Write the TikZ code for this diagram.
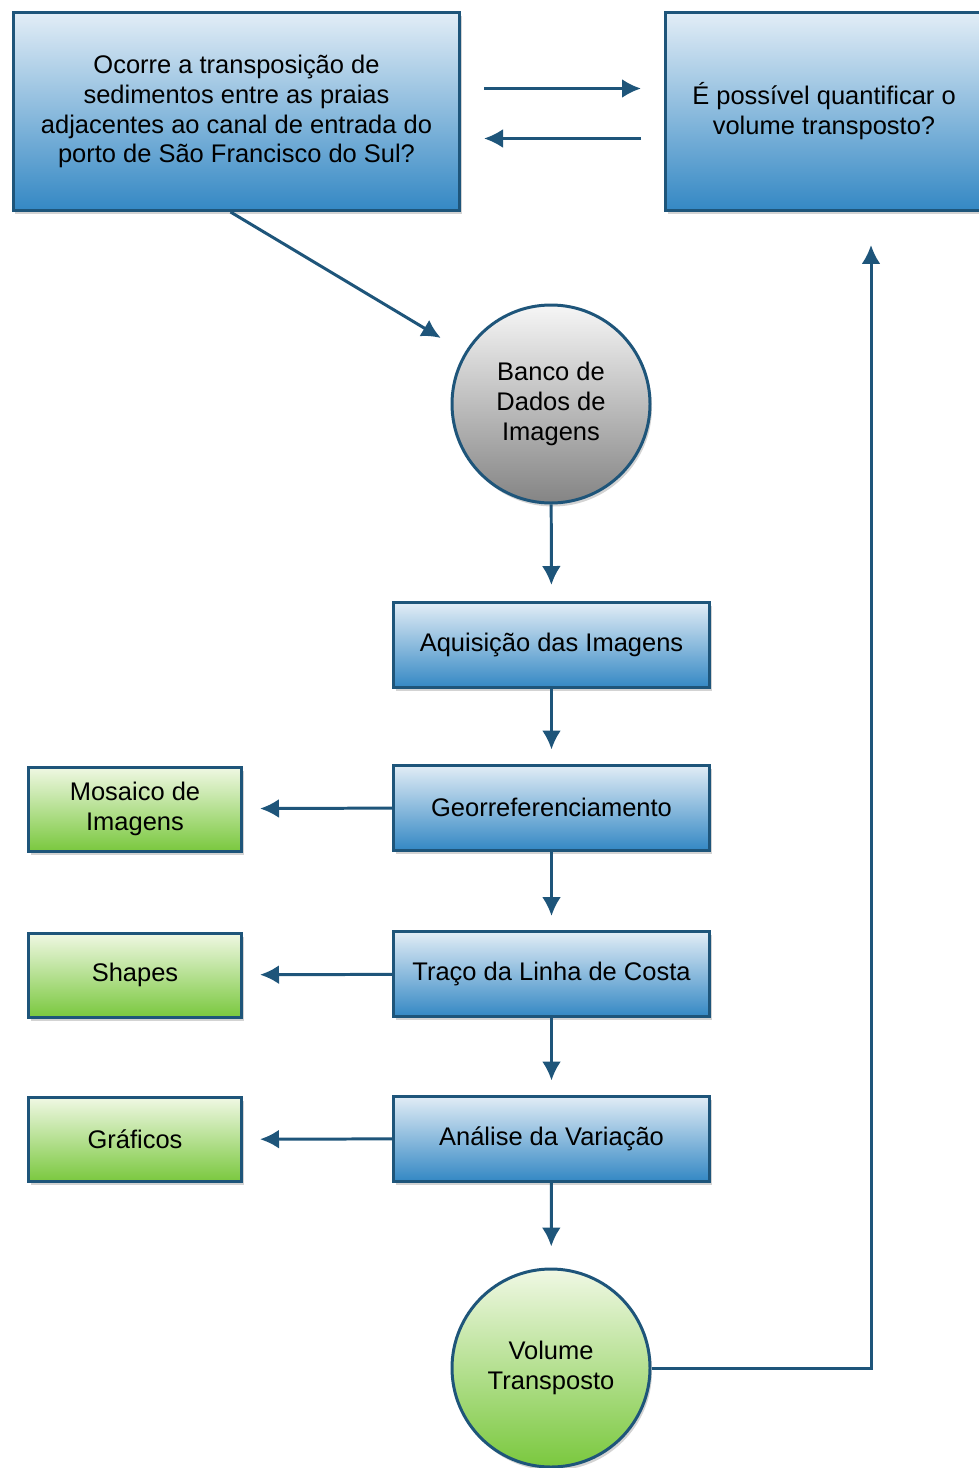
\documentclass[tikz,border=0pt]{standalone}
\usepackage{fontspec}
\setmainfont{Liberation Sans}
\usetikzlibrary{arrows.meta,shadows}
\definecolor{contorno}{RGB}{30,85,122}
\definecolor{azulclaro}{RGB}{226,237,246}
\definecolor{azulescuro}{RGB}{52,136,196}
\definecolor{verdeclaro}{RGB}{240,248,228}
\definecolor{verdeescuro}{RGB}{122,200,62}
\definecolor{cinzaclaro}{RGB}{246,246,246}
\definecolor{cinzaescuro}{RGB}{132,132,132}
\begin{document}
\begin{tikzpicture}[caixa/.style={rectangle,draw=contorno,line width=1.7pt,top color=azulclaro,bottom color=azulescuro,align=center,inner sep=0pt,drop shadow={shadow xshift=0.04cm,shadow yshift=-0.07cm,opacity=0.35}},
  processo/.style={caixa,minimum width=6.32cm,minimum height=1.7cm},
  produto/.style={caixa,top color=verdeclaro,bottom color=verdeescuro,minimum width=4.26cm,minimum height=1.68cm},
  bola/.style={caixa,circle,minimum size=3.96cm},
  seta/.style={draw=contorno,line width=1.7pt,-{Latex[length=0.38cm,width=0.38cm]}},
  every node/.style={font=\fontsize{14.5}{17}\selectfont}]
  \useasboundingbox (0,0) rectangle (19.58,-29.36);
  \node[caixa,minimum width=8.92cm,minimum height=3.96cm] (pergunta) at (4.73,-2.23) {Ocorre a transposição de\\sedimentos entre as praias\\adjacentes ao canal de entrada do\\porto de São Francisco do Sul?};
  \node[caixa,minimum width=6.34cm,minimum height=3.96cm] (quantificar) at (16.48,-2.23) {É possível quantificar o\\volume transposto?};
  \node[bola,top color=cinzaclaro,bottom color=cinzaescuro] (banco) at (11.02,-8.08) {Banco de\\Dados de\\Imagens};
  \node[processo] (aquisicao) at (11.03,-12.9) {Aquisição das Imagens};
  \node[processo] (georref) at (11.03,-16.15) {Georreferenciamento};
  \node[processo] (traco) at (11.03,-19.48) {Traço da Linha de Costa};
  \node[processo] (analise) at (11.03,-22.77) {Análise da Variação};
  \node[bola,top color=verdeclaro,bottom color=verdeescuro] (volume) at (11.02,-27.36) {Volume\\Transposto};
  \node[produto] (mosaico) at (2.7,-16.18) {Mosaico de\\Imagens};
  \node[produto] (shapes) at (2.7,-19.5) {Shapes};
  \node[produto] (graficos) at (2.7,-22.79) {Gráficos};
  \draw[seta,shorten <=0.46cm,shorten >=0.46cm] ([yshift=0.46cm]pergunta.east) -- ([yshift=0.46cm]quantificar.west);
  \draw[seta,shorten <=0.46cm,shorten >=0.46cm] ([yshift=-0.54cm]quantificar.west) -- ([yshift=-0.54cm]pergunta.east);
  \draw[seta,shorten >=0.56cm] ([xshift=-0.12cm]pergunta.south) -- (banco);
  \draw[seta,shorten >=0.32cm] (banco) -- (aquisicao);
  \draw[seta,shorten >=0.28cm] (aquisicao) -- (georref);
  \draw[seta,shorten >=0.28cm] (georref) -- (traco);
  \draw[seta,shorten >=0.28cm] (traco) -- (analise);
  \draw[seta,shorten >=0.42cm] (analise) -- (volume);
  \draw[seta,shorten >=0.34cm] (georref) -- (mosaico);
  \draw[seta,shorten >=0.34cm] (traco) -- (shapes);
  \draw[seta,shorten >=0.34cm] (analise) -- (graficos);
  \draw[seta,shorten >=0.66cm] (volume) -| ([xshift=0.94cm]quantificar.south);
\end{tikzpicture}
\end{document}
